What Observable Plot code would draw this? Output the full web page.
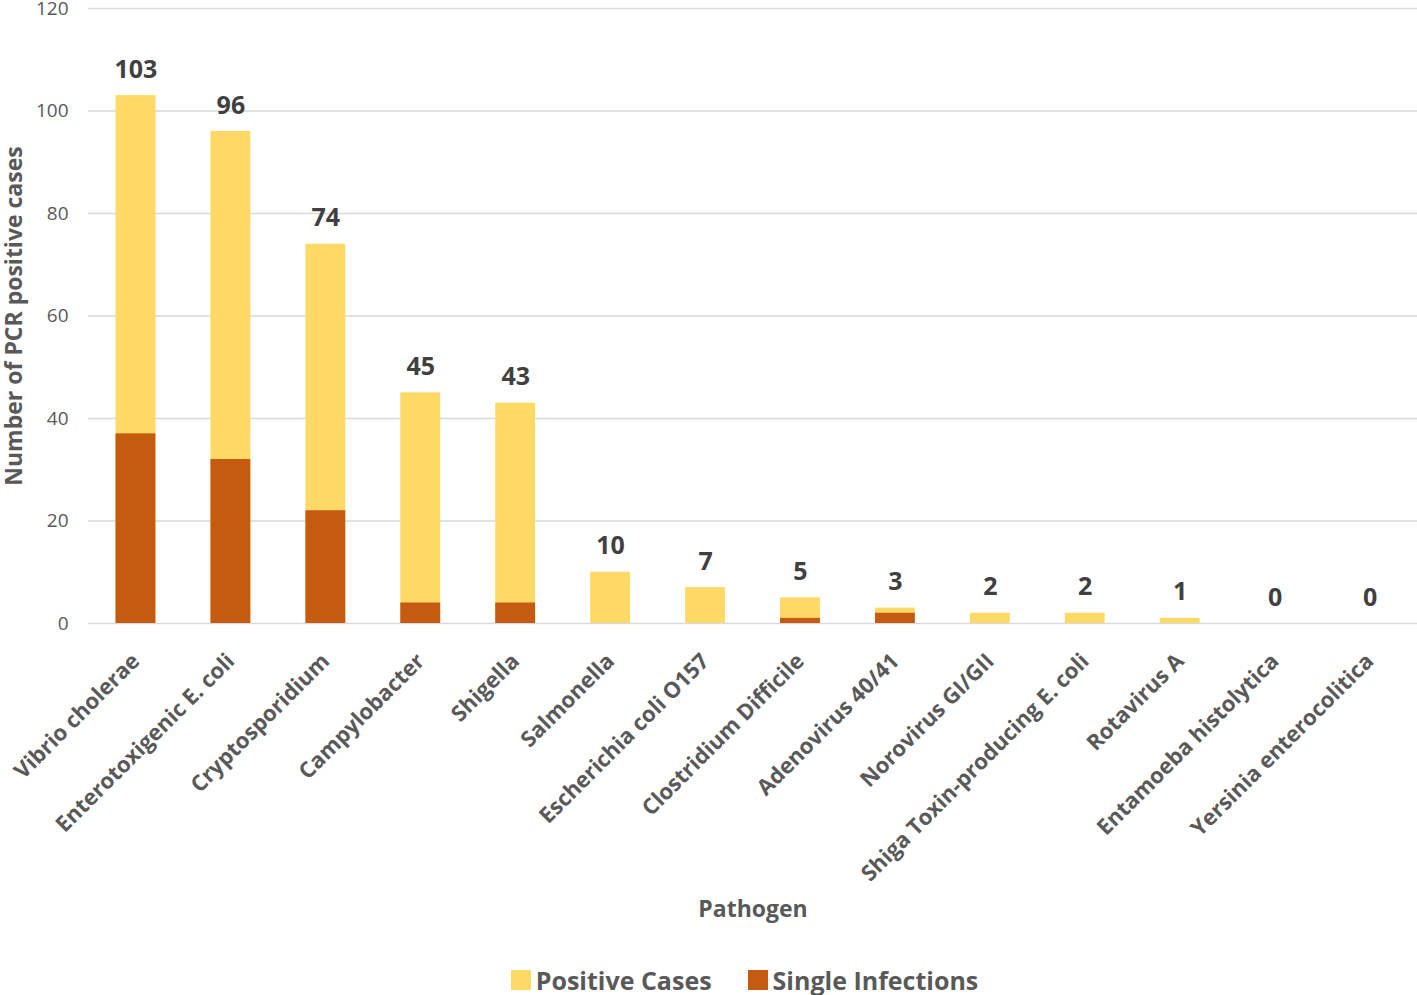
<!DOCTYPE html>
<html>
<head>
<meta charset="utf-8">
<script src="https://cdn.jsdelivr.net/npm/d3@7"></script>
<script src="https://cdn.jsdelivr.net/npm/@observablehq/plot@0.6"></script>
<style>
  body { margin: 0; background: #fff; font-family: "Open Sans", sans-serif; }
  #chart svg { display: block; }
  .legend { display: flex; justify-content: center; align-items: center; height: 60px; padding-left: 72px; font-weight: bold; font-size: 25px; color: #595959; }
  .legend .item { display: flex; align-items: center; margin: 0 18px; }
  .legend .sw { width: 20px; height: 20px; margin-right: 5px; }
</style>
</head>
<body>
<div id="chart"></div>
<script>
const pathogens = [
  "Vibrio cholerae", "Enterotoxigenic E. coli", "Cryptosporidium", "Campylobacter",
  "Shigella", "Salmonella", "Escherichia coli O157", "Clostridium Difficile",
  "Adenovirus 40/41", "Norovirus GI/GII", "Shiga Toxin-producing E. coli",
  "Rotavirus A", "Entamoeba histolytica", "Yersinia enterocolitica"
];
const positiveCases = [103, 96, 74, 45, 43, 10, 7, 5, 3, 2, 2, 1, 0, 0];
const singleInfections = [37, 32, 22, 4, 4, 0, 0, 1, 2, 0, 0, 0, 0, 0];
const yTicks = [0, 20, 40, 60, 80, 100, 120];
const seriesNames = ["Positive Cases", "Single Infections"];
const seriesColors = ["#FFD966", "#C55A11"];

const data = pathogens.map((p, i) => ({pathogen: p, positive: positiveCases[i], single: singleInfections[i]}));

const chart = Plot.plot({
  width: 1417,
  height: 950,
  marginLeft: 88,
  marginRight: 0,
  marginTop: 8,
  marginBottom: 327,
  style: {fontFamily: "'Open Sans', sans-serif", background: "#fff"},
  x: {domain: pathogens, paddingInner: 0.58, paddingOuter: 0.29, round: false, label: null},
  y: {domain: [0, 120], label: null},
  marks: [
    Plot.gridY({ticks: yTicks, stroke: "#d9d9d9", strokeOpacity: 1, strokeWidth: 1.5}),
    Plot.barY(data, {x: "pathogen", y: "positive", fill: seriesColors[0]}),
    Plot.barY(data, {x: "pathogen", y: "single", fill: seriesColors[1]}),
    Plot.text(data, {x: "pathogen", y: "positive", text: d => String(d.positive), lineAnchor: "bottom", dy: -18, fontSize: 25, fontWeight: "bold", fill: "#404040"}),
    Plot.axisY({ticks: yTicks, tickSize: 0, tickPadding: 20, fontSize: 19, color: "#595959", label: null}),
    Plot.axisX({tickSize: 0, tickRotate: -45, tickPadding: 34, fontSize: 22, fontWeight: "bold", color: "#595959", label: null}),
    Plot.text(["Number of PCR positive cases"], {frameAnchor: "left", textAnchor: "middle", rotate: -90, dx: -74, fontSize: 23, fontWeight: "bold", fill: "#595959"}),
    Plot.text(["Pathogen"], {frameAnchor: "bottom", dy: 293, fontSize: 23, fontWeight: "bold", fill: "#595959"})
  ]
});
document.getElementById("chart").appendChild(chart);

const legend = document.createElement("div");
legend.className = "legend";
seriesNames.forEach((name, i) => {
  const item = document.createElement("div");
  item.className = "item";
  const sw = document.createElement("span");
  sw.className = "sw";
  sw.style.background = seriesColors[i];
  const label = document.createElement("span");
  label.textContent = name;
  item.appendChild(sw);
  item.appendChild(label);
  legend.appendChild(item);
});
document.body.appendChild(legend);
</script>
</body>
</html>
